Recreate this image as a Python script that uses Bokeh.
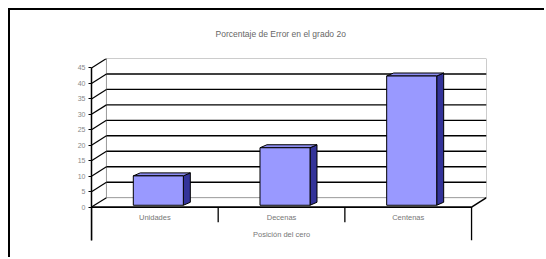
from bokeh.plotting import figure
from bokeh.models import Range1d, FixedTicker
from bokeh.embed import file_html
from bokeh.resources import INLINE
from bokeh.core.properties import value

# ---- data ----
categories = ["Unidades", "Decenas", "Centenas"]
errors = [9.5, 18.6, 41.8]
y_ticks = [0, 5, 10, 15, 20, 25, 30, 35, 40, 45]
title_text = "Porcentaje de Error en el grado 2o"
x_title = "Posición del cero"

# ---- 3D geometry (in data units) ----
DX = 0.118      # wall depth, x
DY = 3.06       # wall depth, y
BDX = 0.055     # bar depth, x
BDY = 0.97      # bar depth, y
BASE = 0.6      # bar base lift (bars sit inside the depth)
B0, B1 = 0.33, 0.725
YMAX = y_ticks[-1]
n = len(categories)
FONT = "Liberation Sans"

p = figure(width=536, height=249,
           x_range=Range1d(0, n + DX), y_range=Range1d(-10.8, YMAX + DY),
           output_backend="svg", toolbar_location=None,
           min_border_left=81, min_border_right=60,
           min_border_top=47, min_border_bottom=19,
           title=title_text)
p.styles = {"margin-left": "8px", "margin-top": "8px",
            "border-left": "2px solid #000", "border-top": "2px solid #000"}
p.outline_line_color = None
p.background_fill_color = "white"
p.border_fill_color = "white"
p.grid.visible = False
p.xaxis.visible = False

p.title.align = "left"
p.title.offset = 124
p.title.text_font = FONT
p.title.text_font_size = "8.5px"
p.title.text_font_style = "normal"
p.title.text_color = "#666666"
p.title.standoff = 36
p.title.vertical_align = "top"

ya = p.yaxis[0]
ya.ticker = FixedTicker(ticks=y_ticks)
ya.bounds = (-10.8, YMAX)
ya.axis_line_color = "black"
ya.axis_line_width = 1.5
ya.major_tick_out = 3
ya.major_tick_in = 0
ya.minor_tick_line_color = None
ya.major_label_text_font = FONT
ya.major_label_text_font_size = "7px"
ya.major_label_text_color = "#888888"
ya.major_label_standoff = 3

# back wall outline (gray)
p.segment(x0=[DX, DX, n + DX, DX], y0=[DY, YMAX + DY, DY, DY],
          x1=[DX, n + DX, n + DX, n + DX], y1=[YMAX + DY, YMAX + DY, YMAX + DY, DY],
          line_color="#999999", line_width=1)
# gridlines on back wall
grid_levels = [t for t in y_ticks if 0 < t < YMAX]
p.segment(x0=[DX] * len(grid_levels), y0=[t + DY for t in grid_levels],
          x1=[n + DX] * len(grid_levels), y1=[t + DY for t in grid_levels],
          line_color="black", line_width=1.4)
# diagonals on the left side wall
p.segment(x0=[0] * len(y_ticks), y0=y_ticks,
          x1=[DX] * len(y_ticks), y1=[t + DY for t in y_ticks],
          line_color="black", line_width=1.2)
# floor: front edge, right diagonal
p.segment(x0=[0, n], y0=[0, 0], x1=[n, n + DX], y1=[0, DY],
          line_color="black", line_width=1.6)
# category separators
seps = list(range(n + 1))
p.segment(x0=seps, y0=[0] * len(seps), x1=seps,
          y1=[-10.8 if s in (0, n) else -4.9 for s in seps],
          line_color="black", line_width=1.3)

# bars
xs0 = [i + B0 for i in range(n)]
xs1 = [i + B1 for i in range(n)]
tops = [BASE + v for v in errors]
side_x = [[a, a, a + BDX, a + BDX] for a in xs1]
side_y = [[BASE, t, t + BDY, BASE + BDY] for t in tops]
top_x = [[a, b, b + BDX, a + BDX] for a, b in zip(xs0, xs1)]
top_y = [[t, t, t + BDY, t + BDY] for t in tops]
p.patches(side_x, side_y, fill_color="#333399", line_color="black", line_width=1)
p.patches(top_x, top_y, fill_color="#8c8cf0", line_color="black", line_width=1)
p.quad(left=xs0, right=xs1, bottom=[BASE] * n, top=tops,
       fill_color="#9999ff", line_color="black", line_width=1)

# category labels and axis title
p.text(x=[i + 0.5 for i in range(n)], y=[-3.3] * n, text=categories,
       text_font=value(FONT), text_font_size="7.5px", text_color="#777777",
       text_align="center", text_baseline="middle")
p.text(x=[n / 2], y=[-8.9], text=[x_title],
       text_font=value(FONT), text_font_size="7.5px", text_color="#777777",
       text_align="center", text_baseline="middle")

open("out.html", "w").write(file_html(p, INLINE))
